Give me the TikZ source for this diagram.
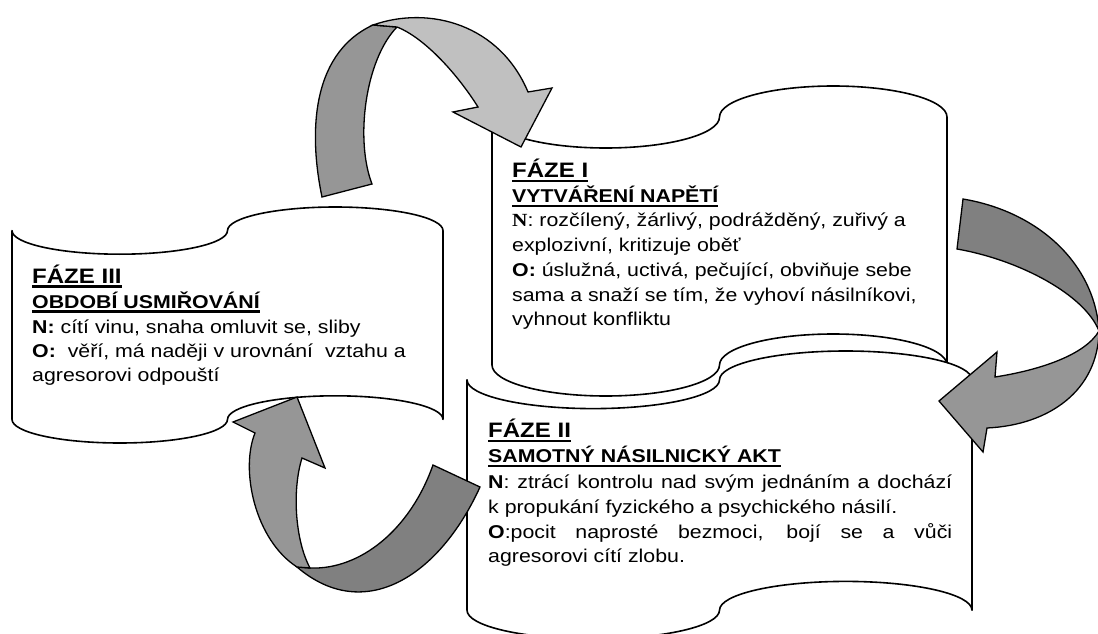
\documentclass[tikz,border=0pt]{standalone}
\usepackage{fontspec}
\setmainfont[FakeStretch=1.15]{Liberation Sans}
\newfontfamily\bsans[FakeStretch=1.15]{Liberation Sans Bold}
\newfontfamily\bserif[FakeStretch=1.15]{Liberation Serif Bold}
\definecolor{gA}{HTML}{969696}
\definecolor{gB}{HTML}{C0C0C0}
\definecolor{gC}{HTML}{808080}
\newcommand\ulbox[1]{\setbox0\hbox{#1}\rlap{\rule[-4.5pt]{\wd0}{2.2pt}}\box0}
\newcommand\tapeshape[5]{%
\pgfmathsetmacro\tpa{#2}%
\pgfmathsetmacro\tpb{#2+#4/4}%
\pgfmathsetmacro\tpc{#2+#4/2}%
\pgfmathsetmacro\tpd{#2+3*#4/4}%
\pgfmathsetmacro\tpe{#2+#4}%
\pgfmathsetmacro\tpya{#3}%
\pgfmathsetmacro\tpyb{#3+0.1*#5}%
\pgfmathsetmacro\tpyc{#3+0.2*#5}%
\pgfmathsetmacro\tpyd{#3+0.8*#5}%
\pgfmathsetmacro\tpye{#3+0.9*#5}%
\pgfmathsetmacro\tpyf{#3+#5}%
\pgfmathsetmacro\tpkx{0.5523*#4/4}%
\pgfmathsetmacro\tpky{0.5523*0.1*#5}%
\draw[#1] (\tpa,\tpyb)
 .. controls (\tpa,\tpyb+\tpky) and (\tpb-\tpkx,\tpyc) .. (\tpb,\tpyc)
 .. controls (\tpb+\tpkx,\tpyc) and (\tpc,\tpyb+\tpky) .. (\tpc,\tpyb)
 .. controls (\tpc,\tpyb-\tpky) and (\tpd-\tpkx,\tpya) .. (\tpd,\tpya)
 .. controls (\tpd+\tpkx,\tpya) and (\tpe,\tpyb-\tpky) .. (\tpe,\tpyb)
 -- (\tpe,\tpye)
 .. controls (\tpe,\tpye-\tpky) and (\tpd+\tpkx,\tpyd) .. (\tpd,\tpyd)
 .. controls (\tpd-\tpkx,\tpyd) and (\tpc,\tpye-\tpky) .. (\tpc,\tpye)
 .. controls (\tpc,\tpye+\tpky) and (\tpb+\tpkx,\tpyf) .. (\tpb,\tpyf)
 .. controls (\tpb-\tpkx,\tpyf) and (\tpa,\tpye+\tpky) .. (\tpa,\tpye)
 -- cycle;%
}
\begin{document}
\begin{tikzpicture}[x=1pt,y=-1pt,
  box/.style={draw=black,fill=white,line width=1.6pt,line join=round},
  arr/.style={draw=black,line width=1.3pt,line join=miter},
  txt/.style={anchor=base west,inner sep=0pt,font=\fontsize{18.55}{24.7}\selectfont},
  big/.style={txt,font=\fontsize{20.9}{26}\selectfont\bsans}]
\useasboundingbox (0,0) rectangle (1098,634);
\clip (0,0) rectangle (1098,634);
\fill[white] (0,0) rectangle (1098,634);
% boxes
\tapeshape{box}{492}{86}{455}{310}
\tapeshape{box}{467}{351}{505}{288}
\tapeshape{box}{12}{207}{431}{236}
% texts box I
\node[big] (t1a) at (512,177.5) {\ulbox{FÁZE I}};
\node[txt] (t1b) at (512,202.2) {\ulbox{\bsans VYTVÁŘENÍ NAPĚTÍ}};
\node[txt] (t1c) at (512,226.9) {{\bserif N}: rozčílený, žárlivý, podrážděný, zuřivý a};
\node[txt] (t1d) at (512,251.6) {explozivní, kritizuje oběť};
\node[txt] (t1e) at (512,276.3) {{\bsans O:} úslužná, uctivá, pečující, obviňuje sebe};
\node[txt] (t1f) at (512,301) {sama a snaží se tím, že vyhoví násilníkovi,};
\node[txt] (t1g) at (512,325.7) {vyhnout konfliktu};
% texts box II
\node[big] (t2a) at (488,437.5) {\ulbox{FÁZE II}};
\node[txt] (t2b) at (488,462.5) {\ulbox{\bsans SAMOTNÝ NÁSILNICKÝ AKT}};
\node[txt] (t2c) at (488,488) {\makebox[464pt][s]{{\bsans N}: ztrácí kontrolu nad svým jednáním a dochází}};
\node[txt] (t2d) at (488,513) {k propukání fyzického a psychického násilí.};
\node[txt] (t2e) at (488,538) {\makebox[464pt][s]{{\bsans O}:pocit naprosté bezmoci, bojí se a vůči}};
\node[txt] (t2f) at (488,562.5) {agresorovi cítí zlobu.};
% texts box III
\node[big] (t3a) at (32,283) {\ulbox{FÁZE III}};
\node[txt] (t3b) at (32,308) {\ulbox{\bsans OBDOBÍ USMIŘOVÁNÍ}};
\node[txt] (t3c) at (32,333) {{\bsans N:} cítí vinu, snaha omluvit se, sliby};
\node[txt] (t3d) at (32,357) {{\bsans O:}\ \ věří, má naději v urovnání\ \ vztahu a};
\node[txt] (t3e) at (32,381) {agresorovi odpouští};
% arrow A (top, III -> I)
\draw[arr,fill=gA] (322,197) .. controls (310,140) and (308,55) .. (373,25)
  -- (397,27) .. controls (365,60) and (355,140) .. (372,184) -- cycle;
\draw[arr,fill=gB] (373,25) .. controls (430,5) and (500,25) .. (528,92)
  -- (552,88) -- (521,147) -- (453,112) -- (478,107)
  .. controls (458,75) and (425,38) .. (397,27) -- cycle;
% arrow B (right, I -> II)
\draw[arr,fill=gC] (963,199) .. controls (1040,212) and (1095,265) .. (1099,331)
  .. controls (1085,295) and (1020,260) .. (957,249) -- cycle;
\draw[arr,fill=gA] (1099,331) .. controls (1098,390) and (1050,425) .. (987,428)
  -- (983,452) -- (939,401) -- (997,352) -- (995,377)
  .. controls (1040,370) and (1085,355) .. (1099,331) -- cycle;
% arrow C (bottom, II -> III)
\draw[arr,fill=gC] (297,567) .. controls (365,625) and (440,575) .. (480,487)
  -- (433,465) .. controls (410,530) and (360,570) .. (310,568) -- cycle;
\draw[arr,fill=gA] (297,567) .. controls (255,540) and (240,470) .. (255,433)
  -- (233,422) -- (297,397) -- (325,468) -- (302,458)
  .. controls (292,490) and (295,540) .. (310,568) -- cycle;
\end{tikzpicture}
\end{document}
